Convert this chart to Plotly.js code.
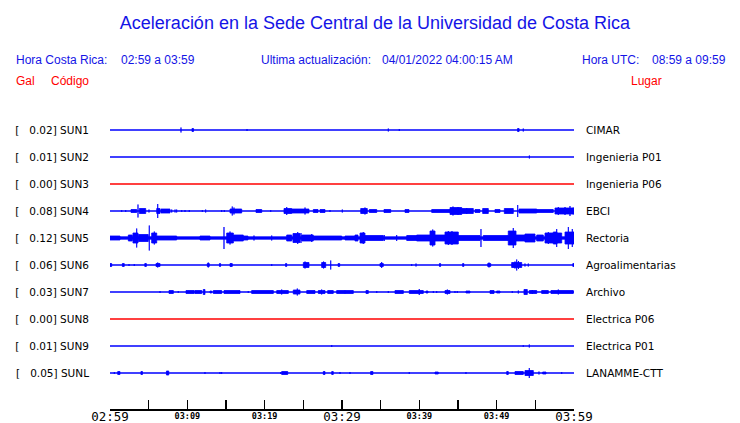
<!DOCTYPE html>
<html><head><meta charset="utf-8">
<script src="https://cdn.plot.ly/plotly-3.0.1.min.js"></script>
<style>html,body{margin:0;padding:0;background:#fff}#chart{width:740px;height:423px}</style>
</head><body><div id="chart"></div>
<script>
// ---- data ----
const STATIONS = ['SUN1','SUN2','SUN3','SUN4','SUN5','SUN6','SUN7','SUN8','SUN9','SUNL'];
const PEAK_GAL = ['0.02','0.01','0.00','0.08','0.12','0.06','0.03','0.00','0.01','0.05'];
const PLACES = ['CIMAR','Ingenieria P01','Ingenieria P06','EBCI','Rectoria','Agroalimentarias','Archivo','Electrica P06','Electrica P01','LANAMME-CTT'];
const TIME_TICKS = [0,5,10,15,20,25,30,35,40,45,50,55,60];          // minutes after 02:59
const TIME_LABELS_MINOR = ['','','03:09','','03:19','','','','03:39','','03:49','',''];
const TIME_MAJOR_TICKS = [0,30,60];
const TIME_LABELS_MAJOR = ['02:59','03:29','03:59'];

// events per station: [start minute, end minute, half amplitude (trace units)]
const SUN1_EVENTS = [[9.18,9.18,2.5],[10.6,10.8,1.5],[17.72,17.72,1],[35.99,35.99,1.5],[37.41,37.41,1],[52.7,52.9,1.5],[53.44,53.44,1.5]];
const SUN2_EVENTS = [[54.23,54.23,1.5]];
const SUN3_EVENTS = [];
const SUN4_EVENTS = [[1.51,1.51,1],[2.03,2.03,1],[2.72,3.45,1.5],[3.62,3.62,6.5],[3.79,4.62,2.5],[5.04,5.04,1.5],[6.04,6.47,2.5],[6.17,6.17,7],[6.59,7.76,2],
  [7.98,7.98,1.5],[8.41,8.41,1.5],[8.62,8.62,1.5],[9.27,9.27,1],[9.70,9.70,1],[10.25,10.25,1],[11.94,11.94,1],[12.37,12.37,1.5],[14.44,14.44,1],[14.78,14.78,1],
  [15.52,17.03,2],[15.81,15.81,4.5],[16.03,16.03,3.5],[18.88,19.62,1.5],[20.78,20.78,1],[22.50,23.50,2.5],[22.85,22.85,4],[23.50,25.73,2],[25.22,25.22,3.5],
  [26.29,26.90,1.5],[27.16,27.80,1.5],[28.45,28.45,1],[30.04,30.04,1.5],[32.42,33.27,2.5],[32.97,32.97,3.5],[33.53,34.49,1.5],[35.43,36.30,1.5],[38.15,38.66,1.5],
  [41.60,43.97,1.5],[43.97,45.48,3.5],[44.35,44.35,4.5],[45.0,45.0,4],[45.48,46.98,2.5],[46.13,46.13,3],[47.20,47.84,1.5],[48.19,48.92,2.5],[49.78,50.43,1.5],
  [50.99,52.15,2.5],[52.72,52.72,6],[52.89,55.18,2],[55.18,57.32,1.5],[57.54,59.93,3],[57.97,57.97,4],[58.84,58.84,4],[59.48,59.48,5],[59.91,59.91,3.5]];
const SUN5_EVENTS = [[0,60,1.2],[0,1.29,2],[2.37,2.88,3],[2.97,3.62,5],[3.45,3.45,9.5],[3.66,4.95,3.5],[5.08,5.08,12.5],[5.39,6.04,5],[5.73,5.73,6.5],[6.04,8.62,2],
  [11.64,12.93,2],[14.74,14.74,11],[15.09,15.95,5],[15.52,15.52,6.5],[15.95,17.24,3],[17.24,17.84,2],[18.62,18.62,2.5],[20.91,20.91,2.5],[22.85,23.50,3],
  [23.66,24.57,4.5],[24.27,24.27,6],[24.70,24.70,5],[24.79,26.29,3],[26.08,26.08,4],[26.29,29.96,2],[30.39,31.68,2],[31.68,32.07,3],[32.33,32.97,5],[32.75,32.75,6],
  [32.97,35.34,2.5],[35.47,35.47,3],[37.07,37.07,3],[38.37,39.66,2.5],[39.66,41.38,3],[41.38,42.03,7],[41.73,41.73,8.5],[42.03,43.32,3],[43.32,45.04,6],
  [43.75,43.75,7],[44.22,44.22,7],[45.04,47.84,2.5],[47.97,47.97,9],[48.27,51.50,2.5],[51.50,52.50,7],[52.15,52.15,10],[52.50,53.66,3],[53.66,54.96,4],
  [55.18,56.03,3],[56.25,57.32,5],[56.68,56.68,6],[57.32,57.80,6],[57.76,57.76,9],[57.80,58.41,5],[58.84,59.48,6],[59.27,59.27,11],[59.48,60,6],[59.78,59.78,9]];
const SUN6_EVENTS = [[0,0.22,1.5],[1.6,1.84,1.5],[2.46,2.46,1],[3.14,3.14,1],[4.5,4.7,1.5],[5.95,6.47,1.5],[6.17,6.17,2.5],[12.58,12.84,1.5],[12.71,12.71,2.5],
  [14.15,14.3,1.5],[15.52,15.81,1.5],[20.91,20.91,1],[22.7,22.85,1.5],[25.0,25.73,2.5],[25.22,25.22,3.5],[27.37,27.89,2.5],[27.62,27.62,3.5],[28.54,28.54,4.5],
  [29.5,29.7,1.5],[34.91,35.34,1.5],[35.13,35.13,3],[39.01,39.01,1],[39.57,39.57,1.5],[42.6,42.75,1.5],[45.6,45.75,1.5],[48.84,49.23,1.5],[49.01,49.01,2.5],
  [51.94,53.24,2.5],[52.37,52.37,3.5],[52.59,52.59,5.5],[52.82,52.82,4],[53.66,53.66,1.5],[54.09,54.09,1.5],[59.85,60,1.5]];
const SUN7_EVENTS = [[6.47,6.47,1],[7.63,8.19,1.5],[8.83,8.83,1],[9.83,10.90,1.5],[10.99,11.86,1.5],[12.06,12.28,2.5],[12.93,13.15,1],[13.36,14.44,1.5],
  [14.74,16.81,1.5],[17.88,17.88,1],[18.32,21.12,1.5],[21.56,23.06,1.5],[22.2,22.2,2.5],[23.70,24.57,2],[24.22,24.22,3.5],[25.44,26.51,1.5],[26.94,27.80,1.5],
  [27.37,27.37,2.5],[28.15,28.87,1.5],[29.31,30.39,1.5],[30.39,31.46,1.5],[33.10,33.40,1.5],[34.49,34.49,1],[35.99,35.99,1],[36.85,37.93,1.5],[38.70,40.51,1.5],
  [39.99,39.99,3],[40.86,41.12,1],[41.81,41.81,1],[42.24,42.24,1],[43.32,43.97,1.5],[43.62,43.62,2.5],[44.61,44.61,1],[44.91,44.91,1],[46.03,46.55,1],
  [49.14,49.66,1.5],[50.00,50.43,1],[52.02,52.02,1],[52.80,52.80,1.5],[53.53,53.96,2.5],[54.22,55.18,1.5],[54.61,54.61,2],[55.82,56.68,1.5],[57.02,59.91,1.5],
  [57.97,57.97,2.5]];
const SUN8_EVENTS = [];
const SUN9_EVENTS = [[28.67,28.67,1],[53.44,53.44,0.8],[54.22,54.22,1.5]];
const SUNL_EVENTS = [[0.56,0.56,1],[1.00,1.29,1.5],[4.0,4.2,1.5],[7.3,7.6,2],[12.28,12.28,1],[14.22,14.22,1],[14.44,14.44,1],[22.07,22.07,1],[22.20,22.98,1.5],
  [27.58,27.80,1.5],[28.67,28.87,1.5],[29.74,29.74,1],[31.03,31.03,1],[33.7,34.0,1.5],[38.70,38.70,1],[42.03,42.45,1],[46.03,46.03,1],[51.3,51.5,1.5],
  [52.37,53.44,1.5],[53.66,54.74,2.5],[54.22,54.22,5],[55.47,55.47,1.5],[55.95,56.38,1],[58.41,58.41,1]];
const ALL_EVENTS = [SUN1_EVENTS,SUN2_EVENTS,SUN3_EVENTS,SUN4_EVENTS,SUN5_EVENTS,SUN6_EVENTS,SUN7_EVENTS,SUN8_EVENTS,SUN9_EVENTS,SUNL_EVENTS];

// ---- style ----
const SPACING = 27;
const BLUE = '#0000ff', RED = '#ff0000', TEXT_BLUE = '#1414e6';
const TRACE_COLORS = [BLUE,BLUE,RED,BLUE,BLUE,BLUE,BLUE,RED,BLUE,BLUE];

const traces = [];
STATIONS.forEach((s, i) => {
  const c = -SPACING * i;
  traces.push({x:[0,60], y:[c,c], mode:'lines', line:{color:TRACE_COLORS[i], width:1.5}, hoverinfo:'skip', showlegend:false});
  const ex = [], ey = [];
  ALL_EVENTS[i].forEach(([t0,t1,a]) => {
    ex.push(t0,t0,t1,t1,t0,null);
    ey.push(c-a,c+a,c+a,c-a,c-a,null);
  });
  if (ex.length) traces.push({x:ex, y:ey, mode:'lines', fill:'toself', fillcolor:TRACE_COLORS[i],
    line:{color:TRACE_COLORS[i], width:0.8}, connectgaps:false, hoverinfo:'skip', showlegend:false});
});
// helper traces so the overlay axes are drawn
traces.push({x:[0,60], y:[0,0], xaxis:'x2', yaxis:'y', mode:'markers', marker:{opacity:0}, hoverinfo:'skip', showlegend:false});
traces.push({x:[0,60], y:[0,0], xaxis:'x', yaxis:'y2', mode:'markers', marker:{opacity:0}, hoverinfo:'skip', showlegend:false});

const centers = STATIONS.map((s,i) => -SPACING*i);
const NB = '\u00a0';
const leftText = STATIONS.map((s,i) => '[' + NB+NB+NB + PEAK_GAL[i] + ']' + NB + s);

const W = 740, H = 423, L = 110, R = 166, T = 100, B = 14;
const pw = W-L-R, ph = H-T-B;
const px = x => (x - L) / pw;
const py = y => (H - B - y) / ph;
const hdr = (text, x, y, color, size) => ({text, x:px(x), y:py(y), xref:'paper', yref:'paper', xanchor:'left', yanchor:'middle',
  showarrow:false, font:{family:'Liberation Sans, Arial, sans-serif', size:size||12, color}});

const layout = {
  width:W, height:H, margin:{l:L, r:R, t:T, b:B}, paper_bgcolor:'#fff', plot_bgcolor:'#fff', showlegend:false,
  title:{text:'Aceleración en la Sede Central de la Universidad de Costa Rica', x:375/W, xref:'container', xanchor:'center',
    y:1-22.5/H, yref:'container', yanchor:'middle', font:{family:'Liberation Sans, Arial, sans-serif', size:18, color:TEXT_BLUE}},
  xaxis:{range:[0,60], showgrid:false, zeroline:false, showline:true, linecolor:'#000', linewidth:1.5,
    tickmode:'array', tickvals:TIME_TICKS, ticktext:TIME_LABELS_MINOR, ticks:'inside', ticklen:9, tickwidth:1.5, tickcolor:'#000',
    ticklabelstandoff:-2, tickfont:{family:'DejaVu Sans Mono', size:8.5, color:'#000', weight:'bold'}, fixedrange:true},
  xaxis2:{range:[0,60], overlaying:'x', anchor:'y', side:'bottom', showgrid:false, zeroline:false, showline:false, ticks:'',
    tickmode:'array', tickvals:TIME_MAJOR_TICKS, ticktext:TIME_LABELS_MAJOR, ticklabelstandoff:-2,
    tickfont:{family:'DejaVu Sans Mono', size:12.5, color:'#000'}, fixedrange:true},
  yaxis:{range:[-279,30], showgrid:false, zeroline:false, showline:false, ticks:'', tickmode:'array', tickvals:centers, ticktext:leftText,
    ticklabelstandoff:20, tickfont:{family:'DejaVu Sans', size:10.5, color:'#000'}, fixedrange:true},
  yaxis2:{range:[-279,30], overlaying:'y', side:'right', anchor:'x', showgrid:false, zeroline:false, showline:false, ticks:'',
    tickmode:'array', tickvals:centers, ticktext:PLACES, ticklabelstandoff:11, tickfont:{family:'DejaVu Sans', size:10.5, color:'#000'}, fixedrange:true},
  annotations:[
    hdr('Hora Costa Rica:', 14, 60.5, TEXT_BLUE), hdr('02:59 a 03:59', 119, 60.5, TEXT_BLUE),
    hdr('Ultima actualización:', 259, 60.5, TEXT_BLUE), hdr('04/01/2022 04:00:15 AM', 379.7, 60.5, TEXT_BLUE),
    hdr('Hora UTC:', 579.7, 60.5, TEXT_BLUE), hdr('08:59 a 09:59', 649.7, 60.5, TEXT_BLUE),
    hdr('Gal', 14, 80.5, RED), hdr('Código', 49.3, 80.5, RED), hdr('Lugar', 629, 80.5, RED)
  ]
};
Plotly.newPlot('chart', traces, layout, {staticPlot:true, displayModeBar:false});
</script></body></html>
